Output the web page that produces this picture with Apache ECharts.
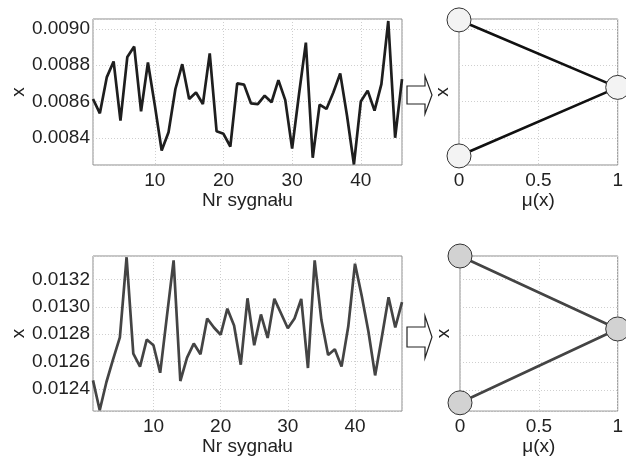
<!DOCTYPE html>
<html>
<head>
<meta charset="utf-8">
<script src="https://cdn.jsdelivr.net/npm/echarts@6/dist/echarts.min.js"></script>
<style>
  html, body { margin: 0; padding: 0; background: #fff; }
  #chart { width: 626px; height: 457px; }
</style>
</head>
<body>
<div id="chart"></div>
<script>
// signal values
var topValues = [0.008614, 0.008535, 0.008733, 0.008821, 0.008495, 0.008846, 0.008903, 0.008546, 0.008815, 0.00858,
  0.00833, 0.008431, 0.008669, 0.008806, 0.008614, 0.00865, 0.008586, 0.008865, 0.008436, 0.008422,
  0.008352, 0.0087, 0.008693, 0.00859, 0.008586, 0.008632, 0.008596, 0.008718, 0.008608, 0.00834,
  0.00864, 0.008925, 0.00829, 0.008583, 0.008559, 0.00865, 0.008755, 0.00852, 0.008253, 0.0086,
  0.00866, 0.00855, 0.008696, 0.009044, 0.0084, 0.008724];
var bottomValues = [0.012464, 0.012246, 0.012452, 0.012618, 0.012777, 0.013361, 0.012659, 0.012564, 0.012761, 0.01272,
  0.012519, 0.01293, 0.013338, 0.012459, 0.01263, 0.012732, 0.012654, 0.012915, 0.012849, 0.012796,
  0.012986, 0.012863, 0.012578, 0.013062, 0.01272, 0.012944, 0.012773, 0.013058, 0.012951, 0.012844,
  0.012915, 0.013058, 0.012554, 0.013338, 0.012903, 0.012649, 0.01269, 0.012564, 0.012856, 0.013314,
  0.013081, 0.01282, 0.0125, 0.01278, 0.01307, 0.012849, 0.013034];

// triangular membership functions (mu, x)
var muPoints = [0, 1, 0];
var topMfX = [0.00905, 0.008678, 0.0083];
var bottomMfX = [0.01337, 0.012843, 0.01231];

var topRange = [0.00825, 0.009055];
var bottomRange = [0.01224, 0.01337];

function pairs(values) {
  var out = [];
  for (var i = 0; i < values.length; i++) out.push([i + 1, values[i]]);
  return out;
}
function mfPairs(xs) {
  var out = [];
  for (var i = 0; i < xs.length; i++) out.push([muPoints[i], xs[i]]);
  return out;
}

var font = 'Liberation Sans, Arial, sans-serif';
var txt = '#222';
var fs = 19;
var gridLine = { show: true, lineStyle: { color: '#cfcfcf', type: [1, 2], width: 1 } };

function grid(l, t, w, h) {
  return { left: l, top: t, width: w, height: h, show: true, borderColor: '#8c8c8c', borderWidth: 1, backgroundColor: 'transparent' };
}
function sigX(idx, max) {
  return {
    type: 'value', gridIndex: idx, min: 1, max: max,
    name: 'Nr sygnału', nameLocation: 'middle', nameGap: 22,
    nameTextStyle: { fontFamily: font, fontSize: fs, color: txt },
    axisLine: { show: false }, axisTick: { show: false },
    axisLabel: { showMinLabel: false, showMaxLabel: false, fontFamily: font, fontSize: fs, color: txt, margin: 6 },
    splitLine: gridLine
  };
}
function sigY(idx, range, showLabels, gap) {
  return {
    type: 'value', gridIndex: idx, min: range[0], max: range[1],
    name: 'x', nameLocation: 'middle', nameGap: gap,
    nameTextStyle: { fontFamily: font, fontSize: fs, color: txt },
    axisLine: { show: false }, axisTick: { show: false },
    axisLabel: {
      show: showLabels, showMinLabel: false, showMaxLabel: false,
      fontFamily: font, fontSize: fs, color: txt, margin: 3,
      formatter: function (v) { return v.toFixed(4); }
    },
    splitLine: gridLine
  };
}
function muX(idx) {
  return {
    type: 'value', gridIndex: idx, min: 0, max: 1, interval: 0.5,
    name: 'μ(x)', nameLocation: 'middle', nameGap: 22,
    nameTextStyle: { fontFamily: font, fontSize: fs, color: txt },
    axisLine: { show: false }, axisTick: { show: false },
    axisLabel: { fontFamily: font, fontSize: fs, color: txt, margin: 6 },
    splitLine: gridLine
  };
}

function arrow(cy, shaft, head) {
  var x0 = 407, x1 = 425, x2 = 432;
  return {
    type: 'polygon',
    shape: { points: [[x0, cy - shaft], [x1, cy - shaft], [x1, cy - head], [x2, cy], [x1, cy + head], [x1, cy + shaft], [x0, cy + shaft]] },
    style: { fill: '#fff', stroke: '#222', lineWidth: 1.2 }
  };
}

var chart = echarts.init(document.getElementById('chart'), null, { renderer: 'canvas' });
chart.setOption({
  backgroundColor: '#fff',
  animation: false,
  grid: [grid(93, 19, 309, 146), grid(93, 256, 309, 159), grid(459, 19, 168, 146), grid(460, 256, 167, 157)],
  xAxis: [sigX(0, 46), sigX(1, 47), muX(2), muX(3)],
  yAxis: [sigY(0, topRange, true, 63), sigY(1, bottomRange, true, 63),
          sigY(2, topRange, false, 7), sigY(3, [0.01225, 0.01337], false, 7)],
  series: [
    { type: 'line', xAxisIndex: 0, yAxisIndex: 0, data: pairs(topValues), showSymbol: false,
      lineStyle: { color: '#1e1e1e', width: 2.7 } },
    { type: 'line', xAxisIndex: 1, yAxisIndex: 1, data: pairs(bottomValues), showSymbol: false,
      lineStyle: { color: '#444', width: 2.7 } },
    { type: 'line', xAxisIndex: 2, yAxisIndex: 2, data: mfPairs(topMfX), clip: false,
      symbol: 'circle', symbolSize: 24,
      lineStyle: { color: '#111', width: 2.7 },
      itemStyle: { color: '#f3f3f3', borderColor: '#333', borderWidth: 1 } },
    { type: 'line', xAxisIndex: 3, yAxisIndex: 3, data: mfPairs(bottomMfX), clip: false,
      symbol: 'circle', symbolSize: 24,
      lineStyle: { color: '#444', width: 2.7 },
      itemStyle: { color: '#d2d2d2', borderColor: '#333', borderWidth: 1 } }
  ],
  graphic: [arrow(95, 9, 19), arrow(337, 10, 21)]
});
</script>
</body>
</html>
